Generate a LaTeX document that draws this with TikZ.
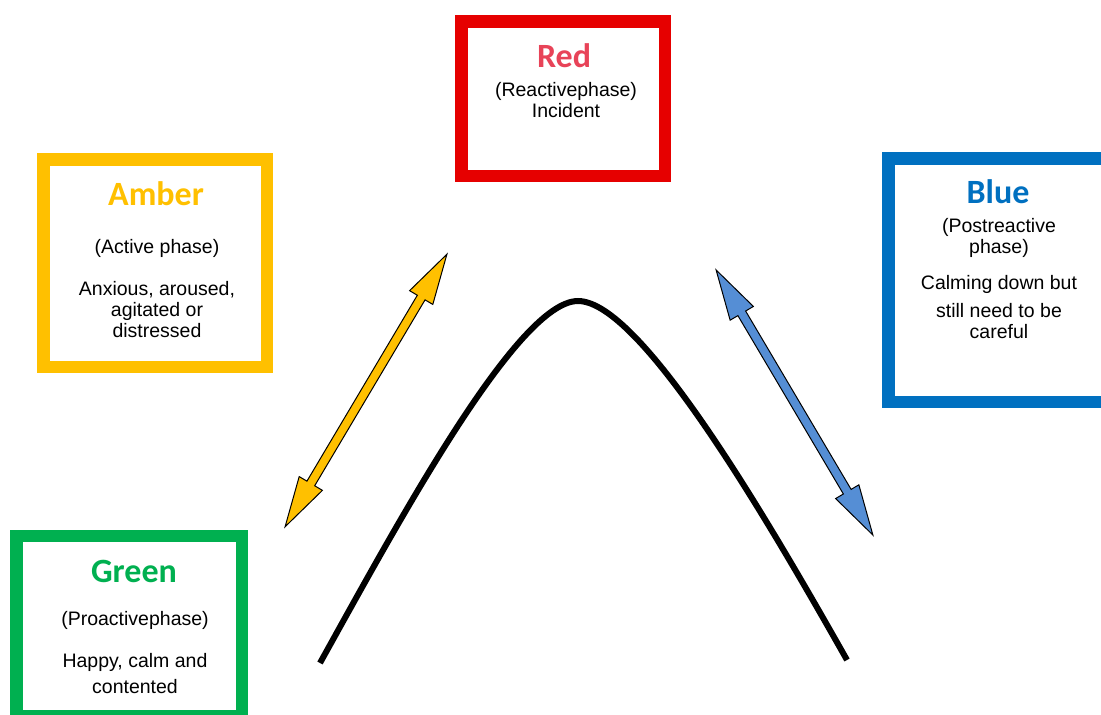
\documentclass[tikz,border=0pt]{standalone}
\usepackage{fontspec}
\setmainfont{Liberation Sans}
\newfontfamily\titlefont{Carlito}
\usepackage{xcolor}
\usetikzlibrary{shapes.arrows}
\definecolor{redline}{RGB}{230,0,0}
\definecolor{redtxt}{RGB}{232,67,88}
\definecolor{amber}{RGB}{255,192,0}
\definecolor{blueline}{RGB}{0,112,192}
\definecolor{bluearrow}{RGB}{85,142,213}
\definecolor{greenline}{RGB}{0,176,80}

\begin{document}
\begin{tikzpicture}[
    x=1pt, y=-1pt,
    phase/.style={draw, line width=12.5pt, fill=white, inner sep=0pt},
    phasetitle/.style={font=\titlefont\bfseries\fontsize{34}{40}\selectfont, anchor=base},
    phasetext/.style={font=\fontsize{19.5}{21}\selectfont, align=center, anchor=base},
    twoway/.style={double arrow, draw=black, line width=1pt, minimum width=26pt, double arrow head extend=9pt, double arrow tip angle=30, inner sep=4pt},
]
    \useasboundingbox[fill=white] (0,0) rectangle (1101,715);

    % Boxes
    \node[phase, draw=redline, minimum width=203.5pt, minimum height=154.5pt] (redbox) at (563,98.5) {};
    \node[phase, draw=amber, minimum width=223.5pt, minimum height=207.5pt] (amberbox) at (155,263) {};
    \node[phase, draw=blueline, minimum width=219.5pt, minimum height=243.5pt] (bluebox) at (998,280) {};
    \node[phase, draw=greenline, minimum width=225.5pt, minimum height=179.75pt] (greenbox) at (129,626.1) {};

    % Titles
    \node[phasetitle, text=redtxt] (redtitle) at (564,67) {Red};
    \node[phasetitle, text=amber] (ambertitle) at (156,205) {Amber};
    \node[phasetitle, text=blueline] (bluetitle) at (998,203) {Blue};
    \node[phasetitle, text=greenline] (greentitle) at (134,582) {Green};

    % Texts (placed at the baseline of their last line)
    \node[phasetext] (redtext) at (566,117) {(Reactivephase)\\Incident};
    \node[phasetext] (ambertext) at (157,337) {(Active phase)\\[21pt]Anxious, aroused,\\agitated or\\distressed};
    \node[phasetext] (bluetext) at (999,338) {(Postreactive\\phase)\\[15pt]Calming down but\\[7pt]still need to be\\careful};
    \node[phasetext] (greentext) at (135,693) {(Proactivephase)\\[21pt]Happy, calm and\\[5pt]contented};

    % Curve
    \draw[line width=6pt] (320,663) .. controls (400,519) and (518,301) .. (578,301)
        .. controls (640,301) and (765,515) .. (847,660);

    % Arrows
    \node[twoway, fill=amber, minimum height=317pt, rotate=59.3] (amberarrow) at (366,390.5) {};
    \node[twoway, fill=bluearrow, minimum height=308pt, rotate=120.6] (bluearr) at (794.5,402.5) {};
\end{tikzpicture}
\end{document}
